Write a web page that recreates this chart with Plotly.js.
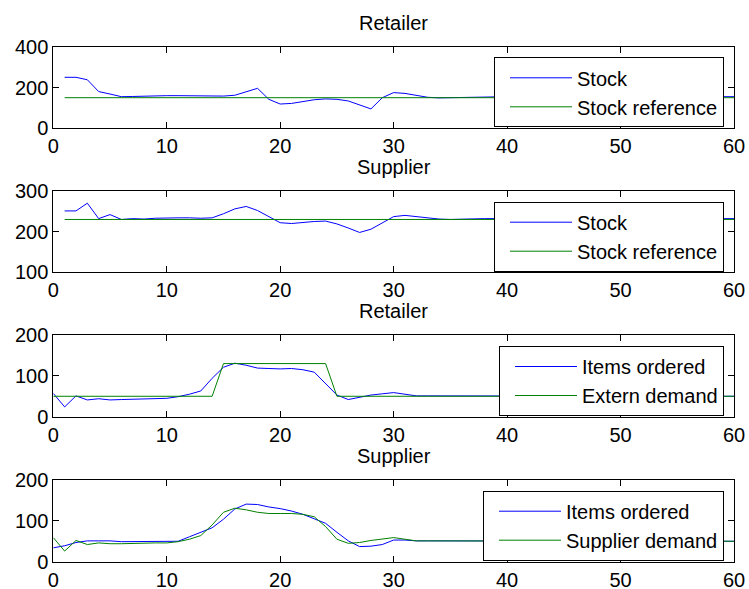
<!DOCTYPE html>
<html>
<head>
<meta charset="utf-8">
<script src="https://cdn.plot.ly/plotly-3.0.1.min.js"></script>
<style>html,body{margin:0;padding:0;background:#fff;}#chart{width:749px;height:589px;}</style>
</head>
<body>
<div id="chart"></div>
<script>
// ---- Data ----
const stockX = [1,2,3,4,5,6,7,8,9,10,11,12,13,14,15,16,17,18,19,20,21,22,23,24,25,26,27,28,29,30,31,32,33,34,35,36,37,38,39,40,41,42,43,44,45,46,47,48,49,50,51,52,53,54,55,56,57,58,59,60];
const retailerStock = [250,250,238,180,168,155,156,158,160,160,160,159,158,158,158,162,180,196,142,119,122,132,140,144,142,134,114,95,150,175,171,162,152,149,150,153,155,155,155,155,155,155,155,155,155,155,155,155,155,155,155,155,155,155,155,155,155,155,155,155];
const retailerStockRef = [150,150,150,150,150,150,150,150,150,150,150,150,150,150,150,150,150,150,150,150,150,150,150,150,150,150,150,150,150,150,150,150,150,150,150,150,150,150,150,150,150,150,150,150,150,150,150,150,150,150,150,150,150,150,150,150,150,150,150,150];
const supplierStock = [251,251,270,232,242,230,232,231,233,234,234,234,233,234,244,256,262,252,237,222,220,223,225,226,219,209,198,206,222,237,240,237,234,231,230,231,232,232,232,232,232,232,232,232,232,232,232,232,232,232,232,232,232,232,232,232,232,232,232,232];
const supplierStockRef = [230,230,230,230,230,230,230,230,230,230,230,230,230,230,230,230,230,230,230,230,230,230,230,230,230,230,230,230,230,230,230,230,230,230,230,230,230,230,230,230,230,230,230,230,230,230,230,230,230,230,230,230,230,230,230,230,230,230,230,230];

const orderX = [0,1,2,3,4,5,6,7,8,9,10,11,12,13,14,15,16,17,18,19,20,21,22,23,24,25,26,27,28,29,30,31,32,33,34,35,36,37,38,39,40,41,42,43,44,45,46,47,48,49,50,51,52,53,54,55,56,57,58,59,60];
const retailerOrdered = [57,24,51,41,44,41,42,43,44,45,45,49,55,63,94,121,131,126,119,118,117,118,115,109,82,53,42,47,53,56,59,55,51,51,51,51,50,50,50,50,50,50,50,50,50,50,50,50,50,50,50,50,50,50,50,50,50,50,50,50,50];
const externDemand = [50,50,50,50,50,50,50,50,50,50,50,50,50,50,50,130,130,130,130,130,130,130,130,130,130,50,50,50,50,50,50,50,50,50,50,50,50,50,50,50,50,50,50,50,50,50,50,50,50,50,50,50,50,50,50,50,50,50,50,50,50];
const supplierOrdered = [34,39,47,51,51,51,49,49,49,49,49,50,61,72,83,104,129,141,140,134,130,124,116,105,94,72,51,37,38,42,53,53,51,51,51,51,51,51,51,50,50,50,50,50,50,50,50,50,50,50,50,50,50,50,50,50,50,50,50,50,50];
const supplierDemand = [59,26,52,42,46,44,44,45,45,46,46,49,55,64,90,121,131,127,121,118,118,118,116,110,86,55,45,47,52,55,59,55,51,51,51,51,50,50,50,50,50,50,50,50,50,50,50,50,50,50,50,50,50,50,50,50,50,50,50,50,50];

const panelTitles = ['Retailer','Supplier','Retailer','Supplier'];
const xTicks = [0,10,20,30,40,50,60];
const yTicks1 = [0,200,400];
const yTicks2 = [100,200,300];
const yTicks3 = [0,100,200];
const yTicks4 = [0,100,200];

// ---- Styling ----
const FONT = 'Liberation Sans, Arial, Helvetica, sans-serif';
const BLUE = '#0000ff';
const GREEN = '#008000';
const W = 749, H = 589;
const xDom = [53.3/W, 734/W];
const panels = [
  {top:46.7, bottom:128.3, yr:[0,400], yt:yTicks1, legTop:57.3},
  {top:191, bottom:272.3, yr:[100,300], yt:yTicks2, legTop:201.7},
  {top:335, bottom:416.7, yr:[0,200], yt:yTicks3, legTop:346},
  {top:480, bottom:561.7, yr:[0,200], yt:yTicks4, legTop:490.7}
];

function line(x, y, name, color, idx, leg){
  return {x:x, y:y, name:name, type:'scatter', mode:'lines',
    line:{color:color, width:1}, xaxis: idx===1?'x':'x'+idx, yaxis: idx===1?'y':'y'+idx,
    legend: leg};
}

const data = [
  line(stockX, retailerStock, 'Stock', BLUE, 1, 'legend'),
  line(stockX, retailerStockRef, 'Stock reference', GREEN, 1, 'legend'),
  line(stockX, supplierStock, 'Stock', BLUE, 2, 'legend2'),
  line(stockX, supplierStockRef, 'Stock reference', GREEN, 2, 'legend2'),
  line(orderX, retailerOrdered, 'Items ordered', BLUE, 3, 'legend3'),
  line(orderX, externDemand, 'Extern demand', GREEN, 3, 'legend3'),
  line(orderX, supplierOrdered, 'Items ordered', BLUE, 4, 'legend4'),
  line(orderX, supplierDemand, 'Supplier demand', GREEN, 4, 'legend4')
];

const layout = {
  width: W, height: H,
  margin:{l:0,r:0,t:0,b:0},
  paper_bgcolor:'#fff', plot_bgcolor:'#fff',
  font:{family:FONT, size:20, color:'#000'},
  showlegend:true,
  annotations: []
};

panels.forEach((p, i) => {
  const n = i+1;
  const xk = n===1?'xaxis':'xaxis'+n;
  const yk = n===1?'yaxis':'yaxis'+n;
  const lk = n===1?'legend':'legend'+n;
  layout[xk] = {domain:xDom, range:[0,60], tickvals:xTicks, ticktext:xTicks.map(String),
    anchor: n===1?'y':'y'+n, showgrid:false, zeroline:false, showline:true, linecolor:'#000', linewidth:1,
    mirror:'ticks', ticks:'inside', ticklen:6, tickcolor:'#000', tickwidth:1,
    tickfont:{family:FONT, size:20, color:'#000'}};
  layout[yk] = {domain:[1-p.bottom/H, 1-p.top/H], range:p.yr, tickvals:p.yt, ticktext:p.yt.map(String),
    anchor: n===1?'x':'x'+n, showgrid:false, zeroline:false, showline:true, linecolor:'#000', linewidth:1,
    mirror:'ticks', ticks:'inside', ticklen:6, tickcolor:'#000', tickwidth:1,
    tickfont:{family:FONT, size:20, color:'#000'}};
  layout[lk] = {x:724/W, xanchor:'right', y:1-p.legTop/H, yanchor:'top',
    bgcolor:'#fff', bordercolor:'#000', borderwidth:1, itemwidth:62, indentation:10,
    font:{family:FONT, size:20, color:'#000'}, tracegroupgap:0};
  layout.annotations.push({text:panelTitles[i], xref:'paper', yref:'paper',
    x:(xDom[0]+xDom[1])/2, y:1-p.top/H, xanchor:'center', yanchor:'bottom', yshift:11,
    showarrow:false, font:{family:FONT, size:20, color:'#000'}});
});

Plotly.newPlot('chart', data, layout, {displayModeBar:false, staticPlot:true});
</script>
</body>
</html>
